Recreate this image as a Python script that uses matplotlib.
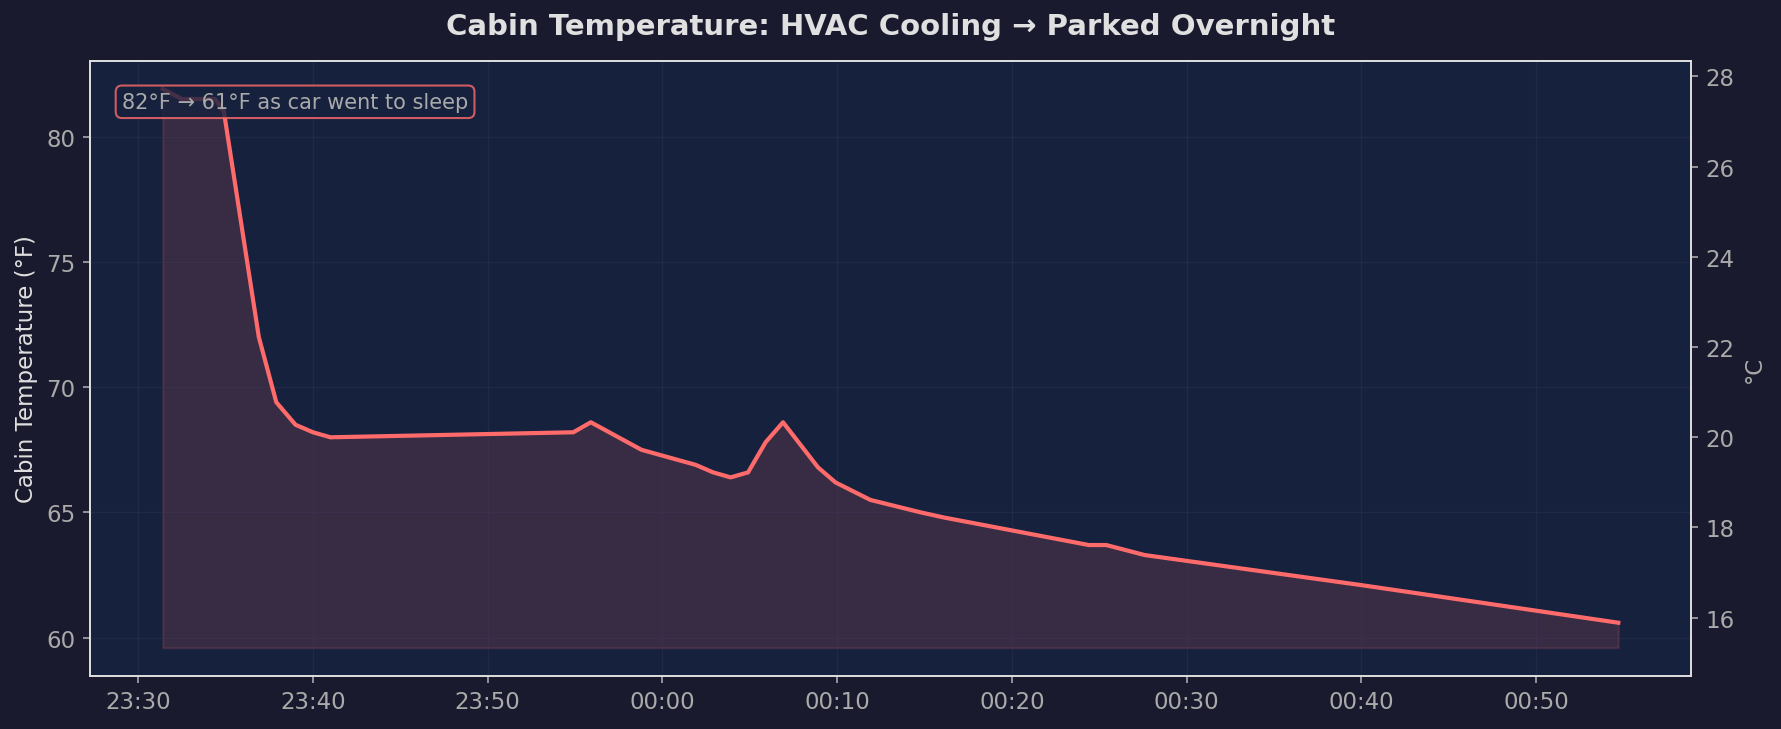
import pandas as pd
import matplotlib
matplotlib.use("Agg")
import matplotlib.pyplot as plt
import matplotlib.dates as mdates

# readings (cabin temp, deg F)
times = ["23:31:24", "23:32:30", "23:34:24", "23:34:54", "23:36:54", "23:37:54",
         "23:39:00", "23:40:00", "23:41:00", "23:54:54", "23:55:54", "23:58:48",
         "00:01:54", "00:02:54", "00:03:54", "00:04:54", "00:05:54", "00:06:54",
         "00:08:54", "00:09:54", "00:11:54", "00:14:48", "00:16:06", "00:24:24",
         "00:25:24", "00:27:36", "00:40:00", "00:54:42"]
temps_f = [81.9, 81.5, 81.5, 81.0, 72.0, 69.4,
           68.5, 68.2, 68.0, 68.2, 68.6, 67.5,
           66.9, 66.6, 66.4, 66.6, 67.8, 68.6,
           66.8, 66.2, 65.5, 65.0, 64.8, 63.7,
           63.7, 63.3, 62.1, 60.6]
note = "82°F → 61°F as car went to sleep"

BG = "#1a1a2e"
PANEL = "#16213e"
LINE = "#ff6b6b"

ts = []
for t in times:
    day = "2024-06-01" if t.startswith("23") else "2024-06-02"
    ts.append(pd.Timestamp(day + " " + t))

fig = plt.figure(figsize=(1781 / 150, 730 / 150), dpi=150, facecolor=BG)
ax = fig.add_subplot(111)
fig.subplots_adjust(left=0.0505, right=0.9495, top=0.915, bottom=0.073)
ax.set_facecolor(PANEL)

ax.plot(ts, temps_f, color=LINE, lw=2)
base = min(temps_f) - 1
ax.fill_between(ts, temps_f, base, color=LINE, alpha=0.15)

ax.xaxis.set_major_locator(mdates.MinuteLocator(byminute=[0, 10, 20, 30, 40, 50]))
ax.xaxis.set_major_formatter(mdates.DateFormatter("%H:%M"))
ax.set_ylabel("Cabin Temperature (°F)", color="#e0e0e0", fontsize=11)
ax.tick_params(colors="#aaaaaa", labelsize=11)
ax.grid(True, color="#3a3a5c", alpha=0.35, lw=0.6)
for s in ax.spines.values():
    s.set_color("#e0e0e0")

ax.text(0.02, 0.95, note, transform=ax.transAxes, va="top", ha="left",
        fontsize=10, color="#aaaaaa",
        bbox=dict(boxstyle="round,pad=0.3", facecolor=PANEL, edgecolor=LINE, alpha=0.8))

lo, hi = ax.get_ylim()
ax2 = ax.twinx()
ax2.set_ylim((lo - 32) * 5 / 9, (hi - 32) * 5 / 9)
ax2.set_ylabel("°C", color="#aaaaaa", fontsize=11)
ax2.tick_params(colors="#aaaaaa", labelsize=11)
for s in ax2.spines.values():
    s.set_color("#e0e0e0")

fig.suptitle("Cabin Temperature: HVAC Cooling → Parked Overnight",
             color="#e0e0e0", fontsize=14, fontweight="bold", y=0.963, va="center")

fig.savefig("out.png", dpi=150, facecolor=BG)
